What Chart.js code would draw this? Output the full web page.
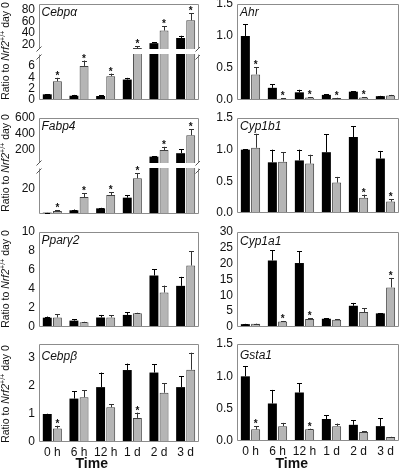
<!DOCTYPE html>
<html><head><meta charset="utf-8">
<script src="https://cdn.jsdelivr.net/npm/chart.js@4.4.1/dist/chart.umd.min.js"></script>
<style>
html,body{margin:0;padding:0;background:#fff;width:400px;height:473px;overflow:hidden;position:relative;}
.box{position:absolute;}
</style></head><body>
<script>
// ---------------- DATA ----------------
const categories = ['0 h', '6 h', '12 h', '1 d', '2 d', '3 d'];

// Cebpα (broken axis)
const cebpaWT = [1.0, 0.75, 0.7, 3.6, 22, 31];
const cebpaWTErr = [0.05, 0.15, 0.15, 0.3, 1.5, 4];
const cebpaKO = [3.3, 6.0, 4.2, 13.5, 44, 62];
const cebpaKOErr = [0.6, 0.95, 0.45, 3.5, 8, 12];
const cebpaSig = [1, 1, 1, 1, 1, 1];
const cebpaTicksUpper = ['20', '40', '60', '80'];
const cebpaTicksLower = ['0', '2', '4', '6'];

// Ahr
const ahrWT = [1.0, 0.19, 0.12, 0.08, 0.13, 0.06];
const ahrWTErr = [0.18, 0.06, 0.04, 0.01, 0.01, 0.005];
const ahrKO = [0.40, 0.02, 0.04, 0.03, 0.04, 0.07];
const ahrKOErr = [0.11, 0.01, 0.005, 0.005, 0.005, 0.01];
const ahrSig = [1, 1, 1, 1, 1, 0];
const ahrTicks = ['0.0', '0.5', '1.0', '1.5'];

// Fabp4 (broken axis)
const fabp4WT = [1, 2.9, 4.4, 12.7, 117, 160];
const fabp4WTErr = [0.1, 0.6, 0.4, 2.1, 8, 49];
const fabp4KO = [2.3, 13.2, 14.8, 27.8, 200, 385];
const fabp4KOErr = [0.8, 2.8, 2.1, 3.9, 40, 75];
const fabp4Sig = [1, 1, 1, 1, 1, 1];
const fabp4TicksUpper = ['200', '400', '600'];
const fabp4TicksLower = ['20'];

// Cyp1b1
const cyp1b1WT = [1.0, 0.80, 0.83, 0.96, 1.20, 0.86];
const cyp1b1WTErr = [0.01, 0.20, 0.17, 0.28, 0.17, 0.12];
const cyp1b1KO = [1.03, 0.81, 0.78, 0.48, 0.24, 0.18];
const cyp1b1KOErr = [0.22, 0.15, 0.14, 0.09, 0.05, 0.04];
const cyp1b1Sig = [0, 0, 0, 0, 1, 1];
const cyp1b1Ticks = ['0.0', '0.5', '1.0', '1.5'];

// Pparγ2
const ppargWT = [0.98, 0.67, 1.0, 1.27, 5.42, 4.33];
const ppargWTErr = [0.12, 0.13, 0.27, 0.28, 0.67, 0.95];
const ppargKO = [1.0, 0.5, 1.0, 1.45, 3.63, 6.47];
const ppargKOErr = [0.34, 0.05, 0.25, 0.05, 0.73, 1.48];
const ppargSig = [0, 0, 0, 0, 0, 0];
const ppargTicks = ['0', '2', '4', '6', '8', '10'];

// Cyp1a1
const cyp1a1WT = [0.9, 21.0, 20.2, 2.6, 6.7, 4.3];
const cyp1a1WTErr = [0.1, 3.2, 3.7, 0.2, 0.9, 0.1];
const cyp1a1KO = [1.0, 1.77, 2.5, 2.3, 4.7, 12.5];
const cyp1a1KOErr = [0.1, 0.13, 0.2, 0.1, 1.3, 3.0];
const cyp1a1Sig = [0, 1, 1, 0, 0, 1];
const cyp1a1Ticks = ['0', '5', '10', '15', '20', '25', '30'];

// Cebpβ
const cebpbWT = [1.0, 1.55, 1.96, 2.57, 2.48, 1.96];
const cebpbWTErr = [0.01, 0.26, 0.52, 0.23, 0.29, 0.39];
const cebpbKO = [0.48, 1.6, 1.24, 0.86, 1.76, 2.58];
const cebpbKOErr = [0.1, 0.25, 0.11, 0.19, 0.34, 0.61];
const cebpbSig = [1, 0, 0, 1, 0, 0];
const cebpbTicks = ['0', '1', '2', '3'];

// Gsta1
const gsta1WT = [1.0, 0.58, 0.75, 0.34, 0.25, 0.23];
const gsta1WTErr = [0.16, 0.21, 0.14, 0.06, 0.07, 0.12];
const gsta1KO = [0.18, 0.23, 0.18, 0.23, 0.14, 0.06];
const gsta1KOErr = [0.05, 0.05, 0.01, 0.04, 0.01, 0.005];
const gsta1Sig = [1, 0, 1, 0, 0, 0];
const gsta1Ticks = ['0.0', '0.5', '1.0', '1.5'];

// ---------------- STYLE ----------------
const FONT = '"Liberation Sans", Arial, sans-serif';
const WT_COLOR = '#000000';
const KO_COLOR = '#b5b5b5';
const KO_BORDER = '#404040';
const FRAME_COLOR = '#8c8c8c';
const TEXT_COLOR = '#111';

// y-axis titles (mixed italic / superscript) on a narrow text canvas at the far left
(function drawYTitles() {
  const c = document.createElement('canvas');
  c.width = 13; c.height = 473;
  c.style.cssText = 'position:absolute;left:0;top:0;width:13px;height:473px;';
  document.body.appendChild(c);
  const ctx = c.getContext('2d');
  const parts = [
    ['Ratio to ', '10.5px ' + FONT, 0],
    ['Nrf2', 'italic 10.5px ' + FONT, 0],
    ['+/+', '7px ' + FONT, -4],
    [' day 0', '10.5px ' + FONT, 0]
  ];
  let total = 0;
  parts.forEach(p => { ctx.font = p[1]; p.push(ctx.measureText(p[0]).width); total += p[3]; });
  [51, 163, 279, 394].forEach(cy => {
    ctx.save();
    ctx.translate(5.5, cy);
    ctx.rotate(-Math.PI / 2);
    ctx.fillStyle = TEXT_COLOR;
    ctx.textBaseline = 'alphabetic';
    ctx.textAlign = 'left';
    let x = -total / 2;
    parts.forEach(p => { ctx.font = p[1]; ctx.fillText(p[0], x, 3.6 + p[2]); x += p[3]; });
    ctx.restore();
  });
})();

const framePlugin = {
  id: 'frame',
  afterDatasetsDraw(chart, args, opts) {
    const {ctx, chartArea: a} = chart;
    const part = opts.part || 'full';
    const L = Math.round(a.left) + 0.5, R = Math.round(a.right) - 0.5;
    const T = Math.round(a.top) + 0.5, B = Math.round(a.bottom) - 0.5;
    ctx.save();
    ctx.strokeStyle = FRAME_COLOR; ctx.lineWidth = 1;
    ctx.beginPath();
    if (part !== 'lower') { ctx.moveTo(L, T); ctx.lineTo(R, T); }
    if (part !== 'upper') { ctx.moveTo(L, B); ctx.lineTo(R, B); }
    ctx.moveTo(L, T); ctx.lineTo(L, B);
    ctx.moveTo(R, T); ctx.lineTo(R, B);
    ctx.stroke();
    ctx.strokeStyle = '#555';
    ctx.beginPath();
    [L, R].forEach(x => {
      if (part === 'upper') { ctx.moveTo(x - 3, B + 3); ctx.lineTo(x + 2, B - 2); }
      if (part === 'lower') { ctx.moveTo(x - 3, T + 5); ctx.lineTo(x + 2, T); }
    });
    ctx.stroke();
    ctx.restore();
  }
};

const errorBarPlugin = {
  id: 'errbars',
  afterDatasetsDraw(chart) {
    const ctx = chart.ctx, ys = chart.scales.y;
    ctx.save();
    chart.data.datasets.forEach((ds, i) => {
      const meta = chart.getDatasetMeta(i);
      meta.data.forEach((bar, j) => {
        const v = ds.data[j];
        if (v > ys.max || v < ys.min) return;
        const yTop = ys.getPixelForValue(v + ds.errors[j]);
        const x = Math.round(bar.x) + 0.5;
        ctx.strokeStyle = ds.errColor; ctx.lineWidth = 1;
        ctx.beginPath();
        ctx.moveTo(x, bar.y); ctx.lineTo(x, yTop);
        ctx.moveTo(x - 2.5, Math.round(yTop) + 0.5); ctx.lineTo(x + 2.5, Math.round(yTop) + 0.5);
        ctx.stroke();
        if (ds.sig && ds.sig[j]) {
          ctx.fillStyle = TEXT_COLOR;
          ctx.font = 'bold 10px ' + FONT;
          ctx.textAlign = 'center'; ctx.textBaseline = 'alphabetic';
          ctx.fillText('*', bar.x, yTop + 1);
        }
      });
    });
    ctx.restore();
  }
};

// panel name (italic, inside the frame) and the "Time" axis caption
const panelTextPlugin = {
  id: 'panelText',
  afterDraw(chart, args, opts) {
    const {ctx, chartArea: a} = chart;
    ctx.save();
    ctx.fillStyle = TEXT_COLOR;
    ctx.textBaseline = 'alphabetic';
    if (opts.name) {
      ctx.font = 'italic 12px ' + FONT;
      ctx.textAlign = 'left';
      ctx.fillText(opts.name, a.left + opts.dx, a.top + opts.dy);
    }
    if (opts.time) {
      ctx.font = 'bold 14px ' + FONT;
      ctx.textAlign = 'center';
      ctx.fillText('Time', opts.timeX, opts.timeY);
    }
    ctx.restore();
  }
};

function makeChart(p) {
  const pad = 14;
  const isBottom = !!p.bottom;
  const padBottom = isBottom ? 0 : pad;
  const xH = isBottom ? 473 - p.bottomY : 0;
  const h = p.bottomY - p.topY + pad + padBottom + xH;
  const boxLeft = p.col ? 200 : 13;
  const boxW = p.col ? 200 : 187;
  const canvasTop = p.topY - pad;
  const div = document.createElement('div');
  div.className = 'box';
  div.style.left = boxLeft + 'px';
  div.style.top = canvasTop + 'px';
  div.style.width = boxW + 'px';
  div.style.height = h + 'px';
  const cv = document.createElement('canvas');
  cv.width = boxW; cv.height = h;
  cv.style.width = boxW + 'px'; cv.style.height = h + 'px';
  div.appendChild(cv);
  document.body.appendChild(div);
  const tickVals = p.ticks.map(Number);
  const tickLbl = {};
  p.ticks.forEach(t => { tickLbl[Number(t)] = t; });
  const timeCenter = p.col ? 291.7 : 91.7;
  new Chart(cv, {
    type: 'bar',
    data: {
      labels: categories,
      datasets: [
        { data: p.wt, errors: p.wtErr, errColor: '#000', sig: [],
          backgroundColor: WT_COLOR, borderWidth: 0, clip: 0,
          categoryPercentage: 0.76, barPercentage: 0.88 },
        { data: p.ko, errors: p.koErr, errColor: '#333', sig: p.sig,
          backgroundColor: KO_COLOR, borderColor: KO_BORDER, borderWidth: 1, clip: 0,
          categoryPercentage: 0.76, barPercentage: 0.88 }
      ]
    },
    options: {
      responsive: false, animation: false, devicePixelRatio: 1,
      layout: { padding: { top: pad, bottom: padBottom, left: 0, right: 1 } },
      plugins: {
        legend: { display: false }, tooltip: { enabled: false },
        frame: { part: p.part || 'full' },
        panelText: { name: p.name || '', dx: p.col ? 3 : 2.5, dy: p.nameDy || 12,
                     time: isBottom, timeX: timeCenter - boxLeft, timeY: 468.3 - canvasTop }
      },
      scales: {
        x: isBottom ? {
          display: true,
          grid: { display: false, drawTicks: false },
          border: { display: false },
          ticks: { font: { family: FONT, size: 12 }, color: TEXT_COLOR, padding: 3, maxRotation: 0, autoSkip: false },
          afterFit: s => { s.height = xH; }
        } : { display: false },
        y: {
          min: p.min, max: p.max,
          grid: { display: false, drawTicks: false },
          border: { display: false },
          ticks: { font: { family: FONT, size: 12 }, color: TEXT_COLOR, padding: 4, autoSkip: false,
                   callback: v => tickLbl[v] },
          afterBuildTicks: s => { s.ticks = tickVals.map(v => ({ value: v })); },
          afterFit: s => { s.width = p.col ? 37 : 26; }
        }
      }
    },
    plugins: [framePlugin, errorBarPlugin, panelTextPlugin]
  });
}

const panels = [
  { col: 0, topY: 4, bottomY: 49, min: 11.8, max: 90.5, ticks: cebpaTicksUpper, part: 'upper',
    name: 'Cebpα', nameDy: 12,
    wt: cebpaWT, wtErr: cebpaWTErr, ko: cebpaKO, koErr: cebpaKOErr, sig: cebpaSig },
  { col: 0, topY: 54, bottomY: 100, min: 0, max: 8.1, ticks: cebpaTicksLower, part: 'lower',
    wt: cebpaWT, wtErr: cebpaWTErr, ko: cebpaKO, koErr: cebpaKOErr, sig: cebpaSig },
  { col: 1, topY: 4, bottomY: 100, min: 0, max: 1.5, ticks: ahrTicks,
    name: 'Ahr', nameDy: 12,
    wt: ahrWT, wtErr: ahrWTErr, ko: ahrKO, koErr: ahrKOErr, sig: ahrSig },
  { col: 0, topY: 118, bottomY: 163, min: 37.5, max: 600, ticks: fabp4TicksUpper, part: 'upper',
    name: 'Fabp4', nameDy: 11.6,
    wt: fabp4WT, wtErr: fabp4WTErr, ko: fabp4KO, koErr: fabp4KOErr, sig: fabp4Sig },
  { col: 0, topY: 168, bottomY: 214, min: 0, max: 35.8, ticks: fabp4TicksLower, part: 'lower',
    wt: fabp4WT, wtErr: fabp4WTErr, ko: fabp4KO, koErr: fabp4KOErr, sig: fabp4Sig },
  { col: 1, topY: 118, bottomY: 213, min: 0, max: 1.5, ticks: cyp1b1Ticks,
    name: 'Cyp1b1', nameDy: 11.6,
    wt: cyp1b1WT, wtErr: cyp1b1WTErr, ko: cyp1b1KO, koErr: cyp1b1KOErr, sig: cyp1b1Sig },
  { col: 0, topY: 232, bottomY: 327, min: 0, max: 10, ticks: ppargTicks,
    name: 'Pparγ2', nameDy: 11.6,
    wt: ppargWT, wtErr: ppargWTErr, ko: ppargKO, koErr: ppargKOErr, sig: ppargSig },
  { col: 1, topY: 232, bottomY: 327, min: 0, max: 30, ticks: cyp1a1Ticks,
    name: 'Cyp1a1', nameDy: 13.3,
    wt: cyp1a1WT, wtErr: cyp1a1WTErr, ko: cyp1a1KO, koErr: cyp1a1KOErr, sig: cyp1a1Sig },
  { col: 0, topY: 344, bottomY: 442, min: 0, max: 3.5, ticks: cebpbTicks, bottom: true,
    name: 'Cebpβ', nameDy: 16.3,
    wt: cebpbWT, wtErr: cebpbWTErr, ko: cebpbKO, koErr: cebpbKOErr, sig: cebpbSig },
  { col: 1, topY: 344, bottomY: 441, min: 0, max: 1.5, ticks: gsta1Ticks, bottom: true,
    name: 'Gsta1', nameDy: 14.6,
    wt: gsta1WT, wtErr: gsta1WTErr, ko: gsta1KO, koErr: gsta1KOErr, sig: gsta1Sig }
];
panels.forEach(p => makeChart(p));
</script></body></html>
